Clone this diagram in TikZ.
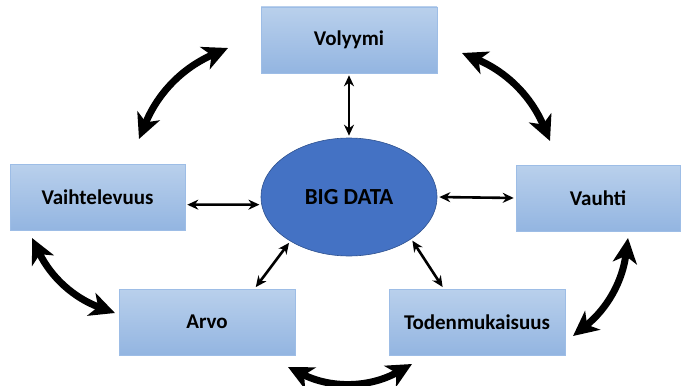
\documentclass[tikz,border=0pt]{standalone}
\usepackage{fontspec}
\setmainfont{Carlito}
\usetikzlibrary{arrows.meta,shapes.geometric}
\definecolor{boxtop}{HTML}{B9D0EC}
\definecolor{boxbot}{HTML}{93B5E1}
\definecolor{boxline}{HTML}{9DBDE6}
\definecolor{ellfill}{HTML}{4472C4}
\definecolor{ellline}{HTML}{2F528F}
\begin{document}
\begin{tikzpicture}[x=1pt,y=1pt,
  vbox/.style={rectangle,draw=boxline,line width=0.6pt,top color=boxtop,bottom color=boxbot,
    minimum width=176pt,minimum height=66pt,font=\bfseries\fontsize{21}{24}\selectfont,inner sep=0pt},
  bigell/.style={ellipse,draw=ellline,line width=0.6pt,fill=ellfill,minimum width=176pt,minimum height=118pt,
    font=\bfseries\fontsize{23}{27}\selectfont,inner sep=0pt},
  link/.style={line width=2.6pt,{Stealth[length=11pt,width=10pt]}-{Stealth[length=11pt,width=10pt]},shorten <=2pt,shorten >=2pt},
  swoosh/.style={line width=7pt,{Stealth[length=25pt,width=24pt,inset=7pt]}-{Stealth[length=25pt,width=24pt,inset=7pt]}}
]
\useasboundingbox (0,0) rectangle (684,-385);
\node[bigell] (big) at (349,-197) {BIG DATA};
\node[vbox] (vol) at (349,-40) {Volyymi};
\node[vbox,minimum width=175pt] (vai) at (97.5,-197) {Vaihtelevuus};
\node[vbox,minimum width=164pt] (vau) at (598,-198) {Vauhti};
\node[vbox] (arvo) at (207,-322) {Arvo};
\node[vbox] (tod) at (477,-322) {Todenmukaisuus};
% straight links
\draw[link] (vol.south) -- (big.north);
\draw[link] (vai.-5) -- (big.185);
\draw[link] (big.east) -- (vau.west);
\draw[link] (arvo.35) -- (big.217);
\draw[link] (tod.135) -- (big.326);
% curved arrows
\coordinate (a1) at (139,-139);
\coordinate (b1) at (228,-48);
\coordinate (a2) at (462,-53);
\coordinate (b2) at (550,-141);
\coordinate (a3) at (32,-238);
\coordinate (b3) at (115,-313);
\coordinate (a4) at (288,-367);
\coordinate (b4) at (412,-364);
\coordinate (a5) at (628,-238);
\coordinate (b5) at (573,-336);
\draw[swoosh] (a1) to[bend left=22] (b1);
\draw[swoosh] (a2) to[bend left=22] (b2);
\draw[swoosh] (a3) to[bend right=22] (b3);
\draw[swoosh] (a4) to[bend right=28] (b4);
\draw[swoosh] (a5) to[bend left=22] (b5);
\end{tikzpicture}
\end{document}
